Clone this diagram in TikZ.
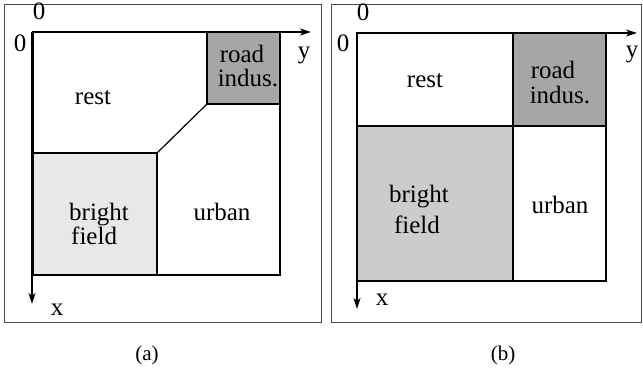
\documentclass[tikz,border=0pt]{standalone}
\usepackage{fontspec}
\setmainfont{Liberation Serif}
\usetikzlibrary{arrows.meta}
\begin{document}
\begin{tikzpicture}[x=1pt,y=-1pt,
  frame/.style={draw=black!70,line width=0.9pt},
  region/.style={draw=black,line width=1.2pt},
  axis/.style={draw=black,line width=1.4pt,-{Stealth[length=11pt,width=7pt,inset=3pt]}},
  lbl/.style={inner sep=0pt,font=\fontsize{25}{25}\selectfont},
  txt/.style={lbl,anchor=base},
  caplbl/.style={inner sep=0pt,font=\fontsize{21}{22}\selectfont}]
\useasboundingbox (0,0) rectangle (643,369);
\fill[white] (0,0) rectangle (643,369);
% ---------- panel (a)
\draw[frame] (4,4) rectangle (321,322);
\fill[black!9] (33,153) rectangle (157,275);
\fill[black!35] (207,32) rectangle (280,104);
\draw[region] (33,32) rectangle (280,275);
\draw[region] (207,32) -- (207,104) -- (280,104);
\draw[region] (207,104) -- (157,153);
\draw[region] (33,153) -- (157,153) -- (157,275);
\coordinate (ao) at (32,32);
\coordinate (ay) at (311,32);
\coordinate (ax) at (32,304);
\draw[axis] (ao) -- (ay);
\draw[axis] (ao) -- (ax);
\node[lbl] (a0t) at (39,11) {0};
\node[lbl] (a0l) at (20,43) {0};
\node[lbl] (ayl) at (304,55) {y};
\node[lbl] (axl) at (57,310) {x};
\node[txt] (arest) at (93,104) {rest};
\node[txt] (aroad) at (242,63) {road};
\node[txt] (aindus) at (248,87) {indus.};
\node[txt,anchor=base west] (abright) at (69,220) {bright};
\node[txt,anchor=base west] (afield) at (71,244) {field};
\node[txt] (aurban) at (222,220) {urban};
\node[caplbl] (acap) at (147,355) {(a)};
% ---------- panel (b)
\draw[frame] (331,4) rectangle (641,322);
\fill[black!20] (357,126) rectangle (513,281);
\fill[black!35] (513,33) rectangle (606,126);
\draw[region] (357,33) rectangle (606,281);
\draw[region] (513,33) -- (513,281);
\draw[region] (357,126) -- (606,126);
\coordinate (bo) at (357,33);
\coordinate (by) at (637,33);
\coordinate (bx) at (357,309);
\draw[axis] (bo) -- (by);
\draw[axis] (bo) -- (bx);
\node[lbl] (b0t) at (363,12) {0};
\node[lbl] (b0l) at (343,43) {0};
\node[lbl] (byl) at (632,54) {y};
\node[lbl] (bxl) at (382,300) {x};
\node[txt] (brest) at (425,88) {rest};
\node[txt] (broad) at (553,78) {road};
\node[txt] (bindus) at (560,103) {indus.};
\node[txt] (bbright) at (419,202) {bright};
\node[txt] (bfield) at (417,233) {field};
\node[txt] (burban) at (560,213) {urban};
\node[caplbl] (bcap) at (503,355) {(b)};
\end{tikzpicture}
\end{document}
